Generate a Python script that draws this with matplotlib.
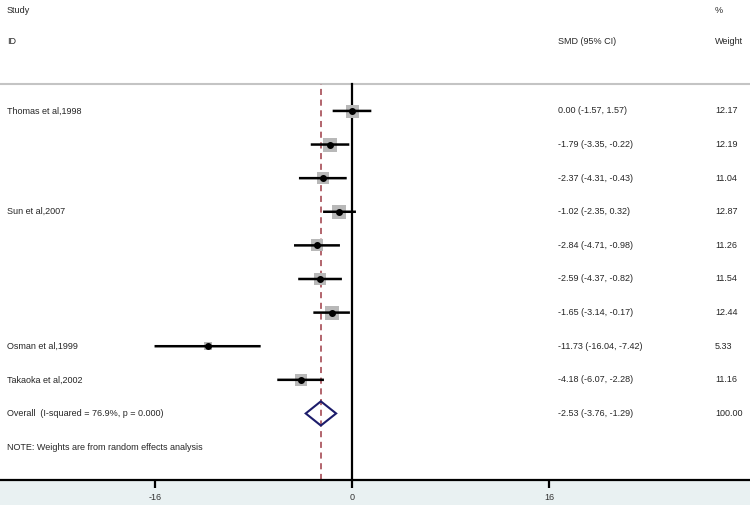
import matplotlib.pyplot as plt
import numpy as np

plt.rcParams['font.family'] = ['Liberation Sans', 'DejaVu Sans']
plt.rcParams['axes.unicode_minus'] = False

studies = ["Thomas et al,1998", "", "", "Sun et al,2007", "", "", "",
           "Osman et al,1999", "Takaoka et al,2002"]
smd = [0.00, -1.79, -2.37, -1.02, -2.84, -2.59, -1.65, -11.73, -4.18]
ci_lo = [-1.57, -3.35, -4.31, -2.35, -4.71, -4.37, -3.14, -16.04, -6.07]
ci_hi = [1.57, -0.22, -0.43, 0.32, -0.98, -0.82, -0.17, -7.42, -2.28]
weights = [12.17, 12.19, 11.04, 12.87, 11.26, 11.54, 12.44, 5.33, 11.16]
overall_label = "Overall  (I-squared = 76.9%, p = 0.000)"
overall = [-2.53, -3.76, -1.29]
overall_weight = 100.00
xticks = [-16, 0, 16]
note = "NOTE: Weights are from random effects analysis"

fig = plt.figure(figsize=(7.5, 5.05), dpi=100)
fig.patch.set_facecolor('#e9f1f2')
ax = fig.add_axes([0, 25 / 505, 1, 480 / 505])
ax.set_facecolor('white')

# pixel mapping: 0 at x=352, 12.31 px per unit
xscale = 12.31
ax.set_xlim(-352 / xscale, 398 / xscale)
ax.set_ylim(10.98, -3.30)

rows = np.arange(len(smd))
top_line = -0.80

ax.axhline(top_line, color='#c4c4c4', lw=1.5)
ax.plot([0, 0], [ax.get_ylim()[0], top_line], color='black', lw=1.6)
ax.plot([overall[0], overall[0]], [ax.get_ylim()[0], top_line],
        color='#9e3b45', lw=1.1, ls=(0, (4, 3)))

# grey boxes, area proportional to weight
side = 13 * 0.72 * np.sqrt(np.array(weights) / 12.17)
for i in range(len(smd)):
    ax.plot(smd[i], rows[i], marker='s', ms=side[i], color='#b8b8b8',
            mew=0, ls='none', zorder=3, snap=False)
ax.hlines(rows, ci_lo, ci_hi, color='black', lw=1.8, zorder=4, snap=False)
ax.plot(smd, rows, marker='o', ms=4, color='black', ls='none', zorder=5,
        snap=False)

oy = len(smd)
dh = 0.36
ax.fill([overall[1], overall[0], overall[2], overall[0], overall[1]],
        [oy, oy - dh, oy, oy + dh, oy], facecolor='none',
        edgecolor='#1c1c6b', lw=1.5, zorder=5)

fs = 6.5
tc = '#262626'
def xp(px):
    return (px - 352) / xscale

ax.text(xp(7), -3.0, "Study", fontsize=fs, va='center', color=tc)
ax.text(xp(7), -2.08, "ID", fontsize=fs, va='center', color=tc)
ax.text(xp(558), -2.08, "SMD (95% CI)", fontsize=fs, va='center', color=tc)
ax.text(xp(715), -3.0, "%", fontsize=fs, va='center', color=tc)
ax.text(xp(715), -2.08, "Weight", fontsize=fs, va='center', color=tc)

for i in range(len(smd)):
    ax.text(xp(7), rows[i], studies[i], fontsize=fs, va='center', color=tc)
    ax.text(xp(558), rows[i], "%.2f (%.2f, %.2f)" % (smd[i], ci_lo[i], ci_hi[i]),
            fontsize=fs, va='center', color=tc)
    ax.text(xp(715), rows[i], "%.2f" % weights[i], fontsize=fs, va='center',
            color=tc)

ax.text(xp(7), oy, overall_label, fontsize=fs, va='center', color=tc)
ax.text(xp(558), oy, "%.2f (%.2f, %.2f)" % tuple(overall), fontsize=fs,
        va='center', color=tc)
ax.text(xp(715), oy, "%.2f" % overall_weight, fontsize=fs, va='center', color=tc)
ax.text(xp(7), oy + 1, note, fontsize=fs, va='center', color=tc)

for s in ['top', 'left', 'right']:
    ax.spines[s].set_visible(False)
ax.spines['bottom'].set_linewidth(1.6)
ax.set_yticks([])
ax.set_xticks(xticks)
ax.tick_params(axis='x', length=6, width=1.6, labelsize=6.5, pad=3,
               labelcolor='#333333')

fig.savefig('out.png', dpi=100, facecolor=fig.get_facecolor())
